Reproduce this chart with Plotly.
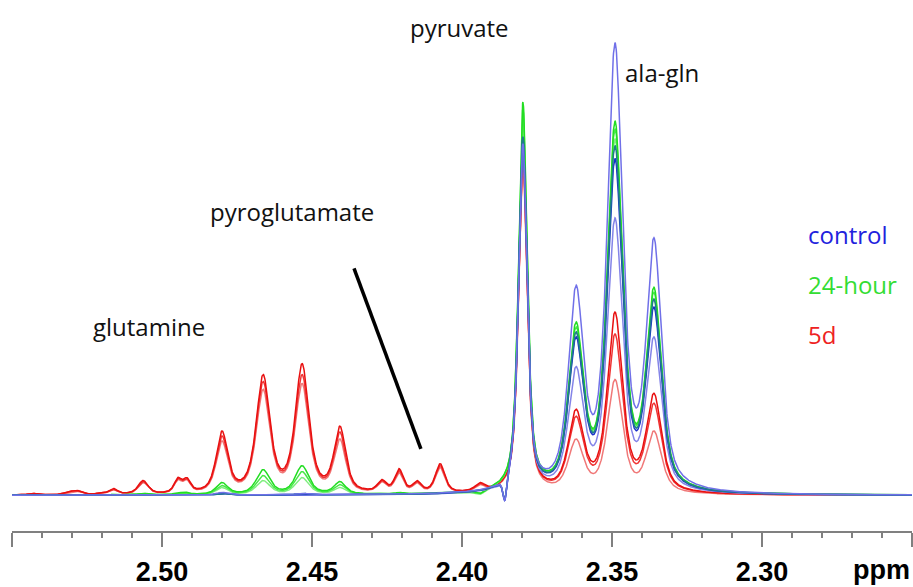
import numpy as np
import plotly.graph_objects as go

# ---- peak table (ppm, half width at half max in ppm) ----
PEAK_PPM = [2.5433, 2.5310, 2.5283, 2.5213, 2.5163, 2.5063, 2.4947, 2.4917,
            2.4800, 2.4663, 2.4533, 2.4407, 2.4267, 2.4210, 2.4150, 2.4073,
            2.3940, 2.3857, 2.3797, 2.3620, 2.3490, 2.3360]
PEAK_HWHM = [0.0018, 0.0018, 0.0018, 0.0018, 0.0018, 0.0020, 0.0015, 0.0015,
             0.0023, 0.0027, 0.0027, 0.0023, 0.0018, 0.0017, 0.0017, 0.0019,
             0.0020, 0.0008, 0.0017, 0.0030, 0.0030, 0.0030]
LORENTZ_FRACTION = 0.65

# ---- apex heights (intensity above baseline) for each spectrum ----
# 5d (red)
D5_A = [2, 4, 5, 2, 7, 15, 18, 18, 65, 122, 133, 70, 16, 27, 15, 32, 13, 0, 350, 87, 185, 103]
D5_B = [2, 4, 5, 2, 6, 14, 17, 17, 60, 115, 122, 64, 15, 25, 14, 30, 12, 0, 342, 80, 163, 93]
D5_C = [2, 3, 4, 2, 6, 13, 16, 16, 55, 107, 113, 57, 14, 23, 13, 28, 11, 0, 332, 57, 117, 65]
# 24-hour (green)
H24_A = [0, 0, 0, 0, 1, 2, 3, 3, 13, 26, 30, 14, 2, 3, 2, 3, 2, 0, 397, 175, 378, 210]
H24_B = [0, 0, 0, 0, 1, 2, 2, 2, 10, 20, 24, 11, 2, 2, 2, 2, 2, 0, 390, 170, 370, 205]
H24_C = [0, 0, 0, 0, 0, 1, 2, 2, 8, 15, 18, 8, 1, 2, 1, 2, 1, 0, 380, 165, 360, 198]
# control (blue)
CTRL_A = [0, 0, 0, 0, 0, 0, 0, 0, 3, 0, 2, 0, 0, 0, 0, 0, 0, -5, 355, 212, 457, 260]
CTRL_B = [0, 0, 0, 0, 0, 0, 0, 0, 2, 0, 2, 0, 0, 0, 0, 0, 0, -4, 362, 165, 353, 198]
CTRL_C = [0, 0, 0, 0, 0, 0, 0, 0, 2, 0, 1, 0, 0, 0, 0, 0, 0, -5, 360, 160, 340, 190]
CTRL_D = [0, 0, 0, 0, 0, 0, 0, 0, 2, 0, 1, 0, 0, 0, 0, 0, 0, -4, 345, 130, 280, 160]

TICK_VALS = [2.55, 2.50, 2.45, 2.40, 2.35, 2.30, 2.25]
TICK_TEXT = ["", "2.50", "2.45", "2.40", "2.35", "2.30", ""]

ppm = np.linspace(2.55, 2.25, 3001)


def lineshape(x, c, w):
    d = (x - c) / w
    return LORENTZ_FRACTION / (1.0 + d ** 2) + (1 - LORENTZ_FRACTION) * np.exp(-np.log(2) * d ** 2)


def spectrum(apex):
    idx = [i for i, a in enumerate(apex) if a != 0]
    c = np.array([PEAK_PPM[i] for i in idx])
    w = np.array([PEAK_HWHM[i] for i in idx])
    a = np.array([apex[i] for i in idx], dtype=float)
    A = lineshape(c[:, None], c[None, :], w[None, :])
    h = np.linalg.solve(A, a)
    return (h[None, :] * lineshape(ppm[:, None], c[None, :], w[None, :])).sum(axis=1)


fig = go.Figure()
series = [
    (D5_C, "#f07878"), (D5_B, "#f03434"), (D5_A, "#e81010"),
    (H24_C, "#80ee80"), (H24_B, "#48e848"), (H24_A, "#22dd22"),
    (CTRL_D, "#8484e8"), (CTRL_C, "#1a30cc"), (CTRL_B, "#207c8c"), (CTRL_A, "#7070e8"),
]
for apex, col in series:
    fig.add_trace(go.Scatter(x=ppm, y=spectrum(apex), mode="lines",
                             line=dict(color=col, width=1.5), showlegend=False,
                             hoverinfo="skip"))

txt = dict(family="Open Sans", size=24, color="#111111")
for label, x, y in [("pyruvate", 2.4007, 472), ("ala-gln", 2.3333, 427),
                    ("pyroglutamate", 2.4567, 287), ("glutamine", 2.5043, 170)]:
    fig.add_annotation(x=x, y=y, text=label, showarrow=False, font=txt,
                       xanchor="center", yanchor="middle")
for label, y, col in [("control", 263, "#2222dd"), ("24-hour", 213, "#33dd33"),
                      ("5d", 162, "#ee2222")]:
    fig.add_annotation(x=2.2853, y=y, text=label, showarrow=False,
                       font=dict(family="Open Sans", size=24, color=col),
                       xanchor="left", yanchor="middle")

fig.add_shape(type="line", x0=2.4360, y0=229, x1=2.4137, y1=47,
              line=dict(color="black", width=3.5))

fig.add_annotation(x=1.0, xref="paper", y=-0.073, yref="paper", text="ppm",
                   showarrow=False, xanchor="right", yanchor="middle",
                   font=dict(family="Liberation Sans", size=27, color="black", weight="bold"))

fig.update_layout(
    width=913, height=587,
    margin=dict(l=12, r=1, t=0, b=51),
    plot_bgcolor="white", paper_bgcolor="white",
    xaxis=dict(range=[2.55, 2.25], showgrid=False, zeroline=False,
               showline=True, linecolor="#808080", linewidth=1.5,
               ticks="outside", ticklen=14, tickwidth=1.5, tickcolor="#808080",
               tickvals=TICK_VALS, ticktext=TICK_TEXT, ticklabelstandoff=2,
               tickfont=dict(family="Liberation Sans", size=27, color="black", weight="bold"),
               minor=dict(dtick=0.01, tick0=2.25, ticks="outside", ticklen=5,
                          tickwidth=1.5, tickcolor="#808080", showgrid=False)),
    yaxis=dict(range=[-36, 500], visible=False),
)

fig.write_html("out.html")
